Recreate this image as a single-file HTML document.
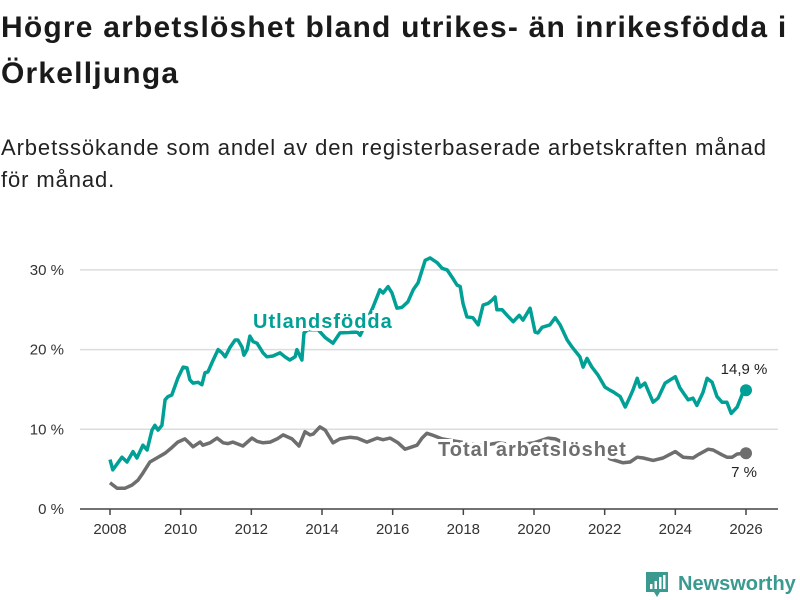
<!DOCTYPE html>
<html><head><meta charset="utf-8">
<style>
body{margin:0;background:#fff;width:800px;height:600px;overflow:hidden;font-family:"Liberation Sans",sans-serif;}
#title{position:absolute;left:1px;top:5px;width:800px;font-size:30px;font-weight:bold;line-height:46px;color:#1a1a1a;letter-spacing:1.2px;white-space:nowrap;}
#subtitle{position:absolute;left:1px;top:132px;width:800px;font-size:22px;line-height:32px;color:#222;letter-spacing:0.9px;white-space:nowrap;}
svg{position:absolute;left:0;top:0;}
</style></head><body>
<div id="title">Högre arbetslöshet bland utrikes- än inrikesfödda i<br>Örkelljunga</div>
<div id="subtitle">Arbetssökande som andel av den registerbaserade arbetskraften månad<br>för månad.</div>
<svg id="chart" width="800" height="600"></svg>
<script>
const yTicks=[0,10,20,30];
const yTickLabels=["0 %","10 %","20 %","30 %"];
const xTicks=[2008,2010,2012,2014,2016,2018,2020,2022,2024,2026];
const tealYears=[2008.00,2008.08,2008.34,2008.48,2008.65,2008.76,2008.93,2009.05,2009.19,2009.27,2009.36,2009.47,2009.56,2009.64,2009.75,2009.92,2010.07,2010.18,2010.26,2010.35,2010.49,2010.60,2010.69,2010.77,2010.92,2011.06,2011.17,2011.26,2011.40,2011.54,2011.62,2011.74,2011.79,2011.88,2011.96,2012.05,2012.16,2012.33,2012.44,2012.61,2012.81,2012.95,2013.09,2013.24,2013.29,2013.43,2013.49,2013.60,2013.89,2014.09,2014.31,2014.51,2015.00,2015.08,2015.44,2015.64,2015.73,2015.87,2015.98,2016.12,2016.26,2016.43,2016.58,2016.72,2016.92,2017.06,2017.26,2017.40,2017.54,2017.68,2017.82,2017.91,2017.99,2018.10,2018.27,2018.42,2018.56,2018.70,2018.81,2018.90,2018.95,2019.10,2019.24,2019.41,2019.58,2019.69,2019.89,2020.03,2020.11,2020.23,2020.45,2020.60,2020.74,2020.94,2021.08,2021.30,2021.39,2021.50,2021.64,2021.81,2022.01,2022.15,2022.24,2022.44,2022.58,2022.72,2022.80,2022.92,2023.00,2023.14,2023.37,2023.51,2023.71,2024.00,2024.13,2024.36,2024.50,2024.61,2024.78,2024.90,2025.04,2025.18,2025.32,2025.46,2025.58,2025.75,2025.92,2026.00];
const tealValues=[6.2,4.9,6.5,5.9,7.2,6.4,8.0,7.4,9.9,10.5,9.9,10.5,13.7,14.1,14.3,16.4,17.8,17.7,16.2,15.8,15.9,15.6,17.1,17.2,18.7,20.0,19.6,19.1,20.3,21.2,21.2,20.3,19.3,20.0,21.7,21.0,20.8,19.6,19.1,19.2,19.6,19.1,18.7,19.1,20.0,18.7,22.1,22.5,22.5,21.5,20.8,22.1,22.2,21.8,25.3,27.5,27.1,27.9,27.1,25.2,25.3,26.0,27.5,28.4,31.2,31.5,30.9,30.2,30.0,29.1,28.1,27.9,25.8,24.1,24.0,23.1,25.6,25.8,26.2,26.6,25.0,25.0,24.3,23.5,24.3,23.7,25.2,22.2,22.1,22.8,23.1,24.0,23.1,21.2,20.3,19.1,17.8,18.9,17.8,16.8,15.3,14.9,14.7,14.1,12.8,14.1,14.9,16.4,15.3,15.8,13.4,13.9,15.8,16.6,15.2,13.7,13.9,13.0,14.6,16.4,15.9,14.1,13.4,13.4,12.0,12.8,14.7,14.9];
const grayYears=[2008.00,2008.20,2008.42,2008.62,2008.79,2008.93,2009.13,2009.36,2009.56,2009.75,2009.92,2010.12,2010.26,2010.35,2010.55,2010.63,2010.83,2011.03,2011.20,2011.34,2011.48,2011.76,2012.02,2012.16,2012.33,2012.53,2012.73,2012.90,2013.15,2013.35,2013.52,2013.66,2013.75,2013.94,2014.09,2014.31,2014.51,2014.79,2015.00,2015.27,2015.56,2015.73,2015.93,2016.15,2016.35,2016.49,2016.69,2016.83,2016.97,2017.11,2017.40,2017.80,2018.20,2018.60,2019.00,2019.50,2020.00,2020.40,2020.60,2021.00,2021.40,2021.80,2022.10,2022.15,2022.52,2022.72,2022.92,2023.09,2023.37,2023.65,2024.00,2024.22,2024.50,2024.64,2024.93,2025.07,2025.32,2025.46,2025.61,2025.75,2026.00];
const grayValues=[3.3,2.6,2.6,3.0,3.6,4.5,5.9,6.5,7.0,7.7,8.4,8.8,8.2,7.8,8.4,8.0,8.3,8.9,8.3,8.2,8.4,7.9,8.9,8.5,8.3,8.4,8.8,9.3,8.8,7.9,9.7,9.3,9.4,10.3,9.9,8.3,8.8,9.0,8.9,8.4,8.9,8.7,8.9,8.3,7.5,7.7,8.0,8.9,9.5,9.3,8.8,8.5,8.2,8.0,8.3,8.0,8.3,8.9,8.8,8.0,7.5,7.0,6.5,6.3,5.8,5.9,6.5,6.4,6.1,6.4,7.2,6.5,6.4,6.8,7.5,7.4,6.8,6.5,6.5,6.9,7.0];
const tealLast="14,9 %", grayLast="7 %";

const svg=document.getElementById('chart');
const NS="http://www.w3.org/2000/svg";
const x=v=>110+(v-2008)*(636/18);
const y=v=>509-v*7.97;
function mk(tag,attrs,parent){const e=document.createElementNS(NS,tag);for(const k in attrs)e.setAttribute(k,attrs[k]);(parent||svg).appendChild(e);return e;}
yTicks.forEach((t,i)=>{
  if(t>0){const g=mk('line',{x1:80,x2:778,y1:y(t),y2:y(t),stroke:'#dcdcdc','stroke-width':1.5});
  
  }
  const l=mk('text',{x:64,y:y(t)+5,'text-anchor':'end','font-size':15,fill:'#333'});
  l.textContent=yTickLabels[i];
  
  
});
const ax=mk('line',{x1:80,x2:778,y1:509,y2:509,stroke:'#444','stroke-width':1.5});


xTicks.forEach(t=>{
  const tk=mk('line',{x1:x(t),x2:x(t),y1:509,y2:515,stroke:'#444','stroke-width':1.5});
  
  
  const l=mk('text',{x:x(t),y:534,'text-anchor':'middle','font-size':15,fill:'#333'});
  l.textContent=t;
  
  
});
function path(xs,vs){return xs.map((v,i)=>(i?'L':'M')+x(v).toFixed(1)+','+y(vs[i]).toFixed(1)).join('');}
const gp=mk('path',{d:path(grayYears,grayValues),fill:'none',stroke:'#6e6e6e','stroke-width':3.5,'stroke-linejoin':'round'});


const tp=mk('path',{d:path(tealYears,tealValues),fill:'none',stroke:'#00a096','stroke-width':3.5,'stroke-linejoin':'round'});


const gd=mk('circle',{cx:x(grayYears[grayYears.length-1]),cy:y(grayValues[grayValues.length-1]),r:6,fill:'#6e6e6e'});


const td=mk('circle',{cx:x(tealYears[tealYears.length-1]),cy:y(tealValues[tealValues.length-1]),r:6,fill:'#00a096'});


const l1=mk('text',{x:253,y:328,'font-size':20,'font-weight':'bold','letter-spacing':1,fill:'#00a096',stroke:'#fff','stroke-width':6,'paint-order':'stroke'});
l1.textContent='Utlandsfödda';


const l2=mk('text',{x:438,y:456,'font-size':20,'font-weight':'bold','letter-spacing':1,fill:'#6e6e6e',stroke:'#fff','stroke-width':6,'paint-order':'stroke'});
l2.textContent='Total arbetslöshet';


const v1=mk('text',{x:744,y:374,'text-anchor':'middle','font-size':15,fill:'#222'});
v1.textContent=tealLast;


const v2=mk('text',{x:744,y:477,'text-anchor':'middle','font-size':15,fill:'#222'});
v2.textContent=grayLast;


const lg=mk('g',{});


mk('path',{d:'M646,572 h22 v20 h-8 l-3,5 l-3,-5 h-8 z',fill:'#3a9a90'},lg);
mk('rect',{x:650,y:584,width:2.5,height:5,fill:'#fff'},lg);
mk('rect',{x:654.5,y:581,width:2.5,height:8,fill:'#fff'},lg);
mk('rect',{x:659,y:577,width:2.5,height:12,fill:'#fff'},lg);
mk('rect',{x:663,y:575,width:2.5,height:14,fill:'#fff'},lg);
const lt=mk('text',{x:678,y:590,'font-size':20,'font-weight':'bold',fill:'#3a9a90'},lg);
lt.textContent='Newsworthy';
</script>
</body></html>
